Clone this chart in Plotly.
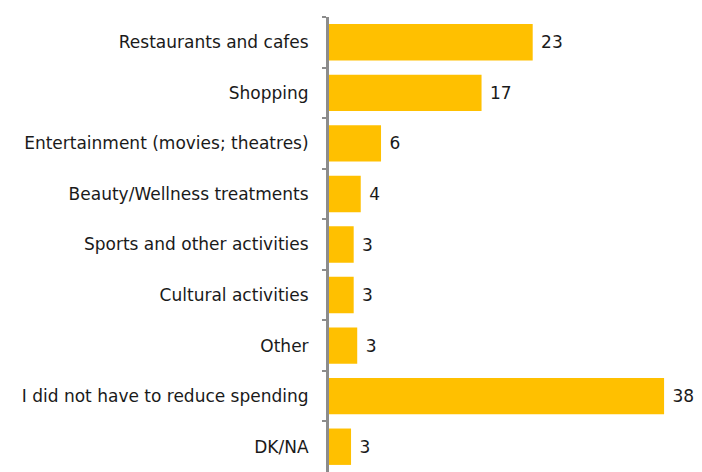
import plotly.graph_objects as go

# categories, top to bottom as in the reference
categories = [
    "Restaurants and cafes",
    "Shopping",
    "Entertainment (movies; theatres)",
    "Beauty/Wellness treatments",
    "Sports and other activities",
    "Cultural activities",
    "Other",
    "I did not have to reduce spending",
    "DK/NA",
]
# bar lengths (%)
values = [23.1, 17.3, 5.9, 3.6, 2.8, 2.8, 3.2, 38.0, 2.5]
# labels as printed next to the bars
value_labels = ["23", "17", "6", "4", "3", "3", "3", "38", "3"]

fig = go.Figure(go.Bar(
    x=values,
    y=categories,
    orientation="h",
    marker=dict(color="#FFC000", line=dict(width=0)),
    text=["\u00a0" + s for s in value_labels],
    textposition="outside",
    textfont=dict(family="DejaVu Sans", size=17, color="#1a1a1a"),
    cliponaxis=False,
    hoverinfo="skip",
))

# the page adds an 8px body margin, so the figure is a little smaller
fig.update_layout(
    width=694,
    height=464,
    margin=dict(l=321, r=0, t=9, b=0),
    paper_bgcolor="white",
    plot_bgcolor="white",
    bargap=0.28,
    showlegend=False,
    font=dict(family="DejaVu Sans", size=17, color="#1a1a1a"),
)

fig.update_xaxes(
    range=[0, 42.3],
    visible=False,
    showgrid=False,
    zeroline=False,
)

fig.update_yaxes(
    autorange="reversed",
    showline=True,
    linecolor="#8c8c8c",
    linewidth=3,
    ticks="outside",
    tickson="boundaries",
    ticklen=4,
    tickwidth=2,
    tickcolor="#8c8c8c",
    ticklabelstandoff=14,
    showgrid=False,
    zeroline=False,
    tickfont=dict(family="DejaVu Sans", size=17, color="#1a1a1a"),
)

fig.write_html("out.html")
